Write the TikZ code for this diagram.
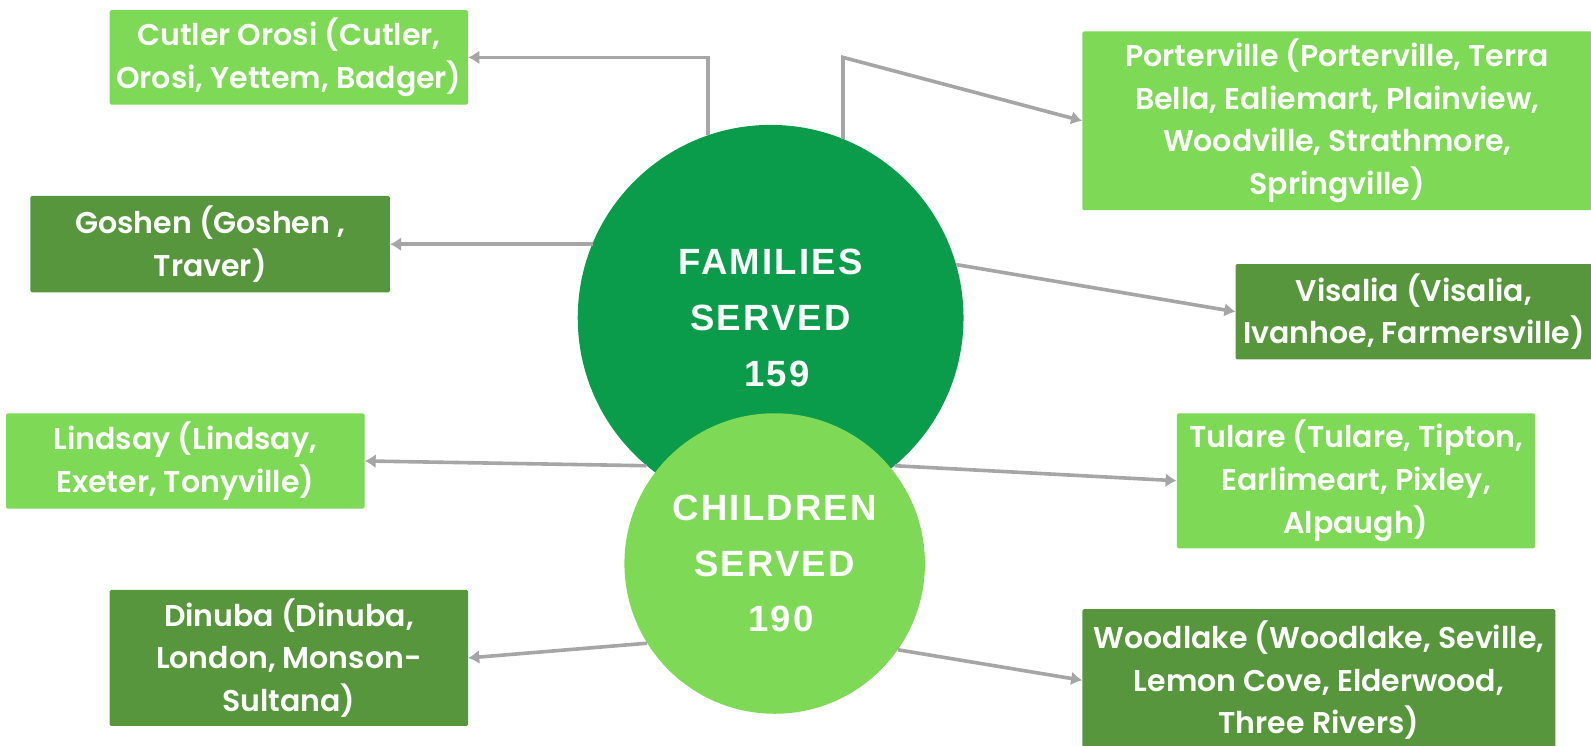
\documentclass[tikz,border=0pt]{standalone}
\usepackage{fontspec}
\setmainfont{Poppins}[BoldFont={Poppins SemiBold}]
\newfontfamily\circfont{Liberation Sans}[LetterSpace=6]
\usetikzlibrary{arrows.meta}
\definecolor{famgreen}{HTML}{0B9C4B}
\definecolor{lightgreen}{HTML}{7ED957}
\definecolor{darkgreen}{HTML}{57963C}
\definecolor{connector}{HTML}{A6A6A6}
\begin{document}
\begin{tikzpicture}[x=1.0153pt,y=-1.0153pt,
  box/.style={rectangle, rounded corners=1.5pt, text=white, align=center,
    font=\fontsize{30}{42.6}\selectfont\bfseries, inner sep=0pt},
  lightbox/.style={box, fill=lightgreen},
  darkbox/.style={box, fill=darkgreen},
  conn/.style={draw=connector, line width=3.6pt, -{Latex[length=11pt,width=14pt]}},
  bigcircle/.style={circle, text=white, align=center, inner sep=0pt,
    font=\circfont\bfseries\fontsize{36.5}{55.8}\selectfont}]
\useasboundingbox (0,0) rectangle (1567,733.8);

% circles
\node[bigcircle, fill=famgreen, minimum size=385.8pt] (fam) at (759,313) {FAMILIES\\SERVED\\\ 159};
\node[bigcircle, fill=lightgreen, minimum size=300.5pt] (chi) at (763,555) {CHILDREN\\SERVED\\\ 190};

% boxes
\node[lightbox, minimum width=358.4pt, minimum height=94.4pt] (cut) at (284.5,56.5) {Cutler Orosi (Cutler,\\Orosi, Yettem, Badger)};
\node[lightbox, minimum width=509.7pt, minimum height=178.7pt] (port) at (1317,119) {Porterville (Porterville, Terra\\Bella, Ealiemart, Plainview,\\Woodville, Strathmore,\\Springville)};
\node[darkbox, minimum width=359.4pt, minimum height=96.5pt] (gos) at (207,240.5) {Goshen (Goshen ,\\Traver)};
\node[darkbox, minimum width=356.4pt, minimum height=95.4pt] (vis) at (1392.5,307) {Visalia (Visalia,\\Ivanhoe, Farmersville)};
\node[lightbox, minimum width=358.4pt, minimum height=95.4pt] (lin) at (182.5,454) {Lindsay (Lindsay,\\Exeter, Tonyville)};
\node[lightbox, minimum width=358.4pt, minimum height=135pt] (tul) at (1335.5,473.5) {Tulare (Tulare, Tipton,\\Earlimeart, Pixley,\\Alpaugh)};
\node[darkbox, minimum width=358.4pt, minimum height=136pt] (din) at (284.5,648) {Dinuba (Dinuba,\\London, Monson-\\Sultana)};
\node[darkbox, minimum width=473.1pt, minimum height=142.1pt] (woo) at (1299,670) {Woodlake (Woodlake, Seville,\\Lemon Cove, Elderwood,\\Three Rivers)};

% connectors
\draw[conn] (fam.109) |- (cut.east);
\coordinate (pb) at (fam.68 |- cut.east);
\draw[conn] (fam.68) -- (pb) -- (port.west);
\draw[conn] (gos.east -| fam.157) -- (gos.east);
\draw[conn] (fam.16) -- (vis.west);
\draw[conn] (fam.230) -- (lin.east);
\draw[conn] (fam.310) -- (tul.west);
\draw[conn] (chi.212) -- (din.east);
\draw[conn] (chi.325) -- (woo.west);
\end{tikzpicture}
\end{document}
